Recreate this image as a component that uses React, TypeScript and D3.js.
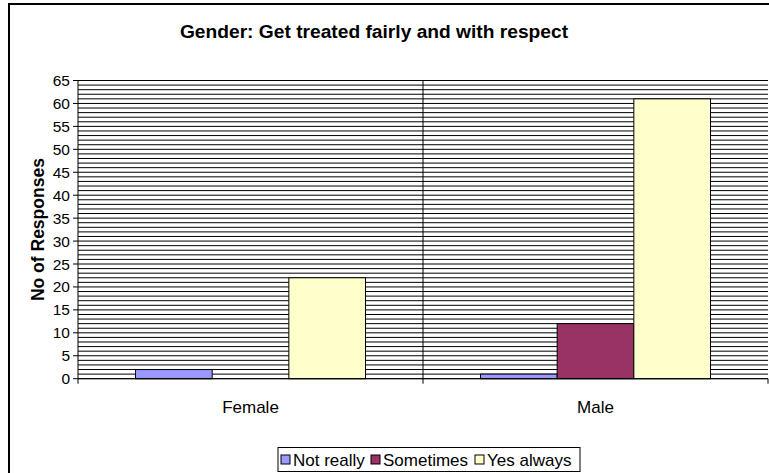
import React from "react";
import * as d3 from "d3";

const categories = ["Female", "Male"];
const seriesNames = ["Not really", "Sometimes", "Yes always"];
const seriesColors = ["#9999FF", "#993366", "#FFFFCC"];
const notReally = [2, 1];
const sometimes = [0, 12];
const yesAlways = [22, 61];
const yTicks = [0, 5, 10, 15, 20, 25, 30, 35, 40, 45, 50, 55, 60, 65];
const title = "Gender: Get treated fairly and with respect";
const yTitle = "No of Responses";

const W = 769;
const H = 473;
const left = 78;
const right = 768;
const top = 80.5;
const bottom = 378.7;

export default function App() {
  const values = [notReally, sometimes, yesAlways];
  const x = d3.scaleBand<string>().domain(categories).range([left, right]).padding(0);
  const inner = d3
    .scaleBand<string>()
    .domain(seriesNames)
    .range([0, x.bandwidth()])
    .paddingInner(0)
    .paddingOuter(0.75);
  const y = d3.scaleLinear().domain([0, 65]).range([bottom, top]);
  const grid = d3.range(0, 66, 1);
  const font = "Arial, 'Liberation Sans', sans-serif";

  const legendX = [281, 371, 475];

  return (
    <svg
      width={W}
      height={H}
      style={{ position: "absolute", left: 0, top: 0, background: "#fff" }}
      fontFamily={font}
    >
      <rect x={9} y={4} width={W + 20} height={H + 20} fill="#fff" stroke="#000" strokeWidth={2} />
      <text x={374} y={38} textAnchor="middle" fontWeight="bold" fontSize={19.2}>
        {title}
      </text>
      {grid.map((g) => (
        <line key={g} x1={left} x2={right} y1={y(g)} y2={y(g)} stroke="#000" strokeWidth={1} />
      ))}
      {categories.map((c, ci) =>
        seriesNames.map((s, si) => {
          const v = values[si][ci];
          if (!v) return null;
          const bx = (x(c) as number) + (inner(s) as number);
          return (
            <rect
              key={c + s}
              x={bx}
              y={y(v)}
              width={inner.bandwidth()}
              height={y(0) - y(v)}
              fill={seriesColors[si]}
              stroke="#000"
              strokeWidth={1}
            />
          );
        })
      )}
      <line x1={left} x2={left} y1={top} y2={bottom} stroke="#000" strokeWidth={1} />
      <line x1={left} x2={right} y1={bottom} y2={bottom} stroke="#000" strokeWidth={1} />
      {[left, x("Male") as number, right].map((tx, i) => (
        <line
          key={"ct" + i}
          x1={tx}
          x2={tx}
          y1={i === 1 ? top : bottom}
          y2={bottom + 5}
          stroke="#000"
          strokeWidth={1}
        />
      ))}
      {yTicks.map((t) => (
        <g key={"yt" + t}>
          <line x1={left - 5} x2={left} y1={y(t)} y2={y(t)} stroke="#000" />
          <text x={70} y={y(t) + 5.5} textAnchor="end" fontSize={15.5}>
            {t}
          </text>
        </g>
      ))}
      {categories.map((c) => (
        <text
          key={"cl" + c}
          x={(x(c) as number) + x.bandwidth() / 2}
          y={413}
          textAnchor="middle"
          fontSize={17}
        >
          {c}
        </text>
      ))}
      <text
        transform={`translate(44,${(top + bottom) / 2}) rotate(-90)`}
        textAnchor="middle"
        fontWeight="bold"
        fontSize={17.5}
      >
        {yTitle}
      </text>
      <rect x={278} y={447.5} width={302} height={24} fill="#fff" stroke="#000" strokeWidth={1} />
      {seriesNames.map((s, i) => (
        <g key={"lg" + s}>
          <rect
            x={legendX[i]}
            y={455}
            width={9}
            height={9}
            fill={seriesColors[i]}
            stroke="#000"
            strokeWidth={1}
          />
          <text x={legendX[i] + 12} y={465.5} fontSize={17}>
            {s}
          </text>
        </g>
      ))}
    </svg>
  );
}
